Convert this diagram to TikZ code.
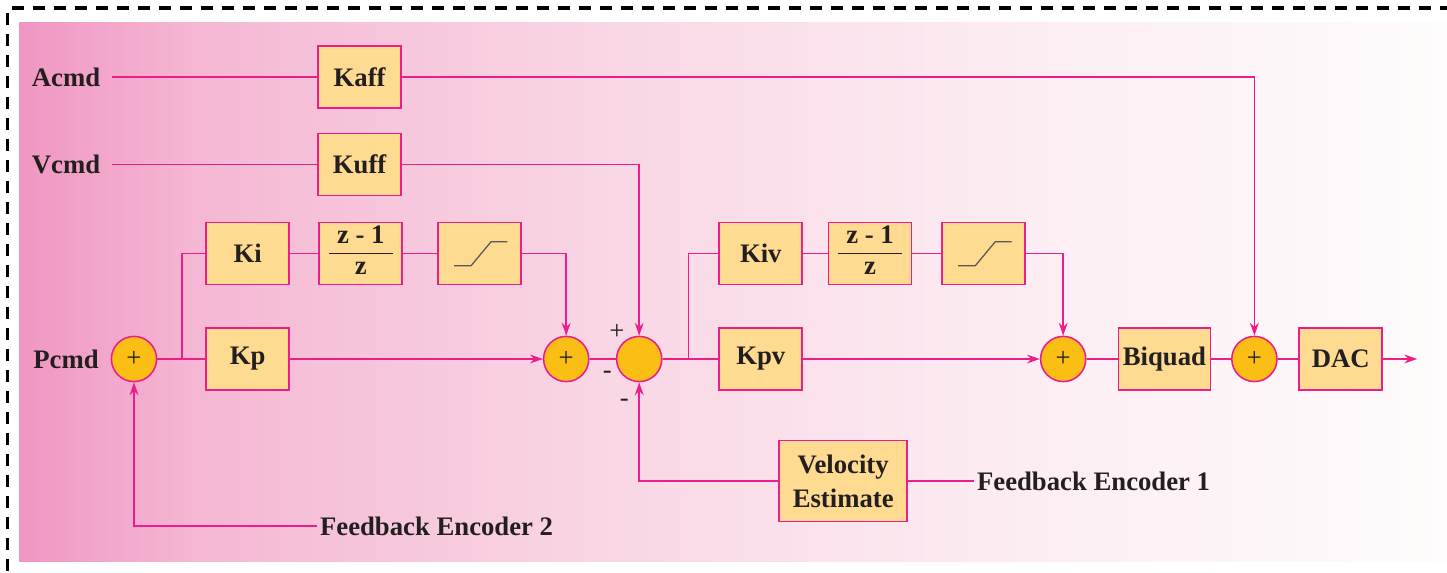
\documentclass[tikz,border=0pt]{standalone}
\usepackage{fontspec}
\setmainfont{Liberation Serif}
\usetikzlibrary{arrows.meta}

\definecolor{wirepink}{RGB}{236,30,140}
\definecolor{blkfill}{RGB}{255,218,145}
\definecolor{sumfill}{RGB}{250,190,20}
\definecolor{inkdark}{RGB}{35,31,32}
\definecolor{bgA}{RGB}{240,150,194}
\definecolor{bgB}{RGB}{245,184,212}
\definecolor{bgC}{RGB}{249,214,229}
\definecolor{bgD}{RGB}{252,236,242}
\definecolor{bgE}{RGB}{254,252,252}
\setlength{\arrayrulewidth}{1pt}

\begin{document}
\begin{tikzpicture}[
    blk/.style={draw=wirepink, fill=blkfill, line width=1.2pt, minimum width=2.075cm, minimum height=1.55cm, inner sep=2pt, font=\bfseries\fontsize{19}{24}\selectfont, text=inkdark},
    sumc/.style={circle, draw=wirepink, fill=sumfill, line width=1.1pt, minimum size=1.13cm, inner sep=0pt, font=\fontsize{19}{20}\selectfont, text=inkdark},
    sig/.style={font=\bfseries\fontsize{19}{24}\selectfont, text=inkdark, inner sep=2pt},
    cmd/.style={sig, inner xsep=0.3cm},
    sgn/.style={font=\fontsize{19}{20}\selectfont, text=inkdark, inner sep=0pt},
    wire/.style={draw=wirepink, line width=1.2pt},
    arw/.style={-{Stealth[length=0.32cm, width=0.22cm]}},
    satline/.style={draw=inkdark!75, line width=0.9pt}
]
    \useasboundingbox (0,0) rectangle (36.175,14.325);

    % Background and frame
    \shade[left color=bgA, right color=bgB] (0.475,0.275) rectangle (5.01,13.76);
    \shade[left color=bgB, right color=bgC] (5,0.275) rectangle (15.01,13.76);
    \shade[left color=bgC, right color=bgD] (15,0.275) rectangle (25.01,13.76);
    \shade[left color=bgD, right color=bgE] (25,0.275) rectangle (36.175,13.76);
    \draw[black, line width=2.2pt, dash pattern=on 0.3cm off 0.225cm] (0.19,-1) rectangle (37.5,14.125);

    % Command inputs
    \node[cmd] (acmd) at (1.65,12.4) {Acmd};
    \node[cmd] (vcmd) at (1.65,10.21) {Vcmd};
    \node[cmd] (pcmd) at (1.65,5.35) {Pcmd};

    % Feedforward gains
    \node[blk] (kaff) at (8.99,12.4) {Kaff};
    \node[blk] (kuff) at (8.99,10.21) {Kuff};

    % Position loop
    \node[sumc] (sumP) at (3.35,5.35) {+};
    \coordinate (brP) at (4.55,5.35);
    \node[blk] (ki) at (6.19,7.99) {Ki};
    \node[blk, inner sep=0pt] (intP) at (9.02,7.99) {\renewcommand{\arraystretch}{0.87}\begin{tabular}{@{\hspace{0.2cm}}c@{\hspace{0.2cm}}}z - 1\\\hline z\end{tabular}};
    \node[blk] (satP) at (11.985,7.99) {};
    \draw[satline] ([xshift=-0.635cm,yshift=-0.31cm]satP.center) -- ++(0.425,0) -- ++(0.5,0.6) -- ++(0.41,0);
    \node[blk] (kp) at (6.19,5.35) {Kp};
    \node[sumc] (sumPI) at (14.155,5.35) {+};

    % Velocity loop
    \node[sumc] (sumV) at (15.98,5.35) {};
    \node[sgn] (plusV) at (15.42,6.03) {+};
    \node[sgn] (minusA) at (15.18,4.95) {-};
    \node[sgn] (minusB) at (15.61,4.26) {-};
    \coordinate (brV) at (17.21,5.35);
    \node[blk] (kiv) at (19.02,7.99) {Kiv};
    \node[blk, inner sep=0pt] (intV) at (21.75,7.99) {\renewcommand{\arraystretch}{0.87}\begin{tabular}{@{\hspace{0.2cm}}c@{\hspace{0.2cm}}}z - 1\\\hline z\end{tabular}};
    \node[blk] (satV) at (24.59,7.99) {};
    \draw[satline] ([xshift=-0.635cm,yshift=-0.31cm]satV.center) -- ++(0.425,0) -- ++(0.5,0.6) -- ++(0.41,0);
    \node[blk] (kpv) at (19.02,5.35) {Kpv};
    \node[sumc] (sumVI) at (26.58,5.35) {+};
    \node[blk, minimum width=3.2cm, minimum height=2.02cm, align=center] (velest) at (21.08,2.3) {Velocity\\Estimate};

    % Output stage
    \node[blk, minimum width=2.3cm] (biquad) at (29.11,5.35) {Biquad};
    \node[sumc] (sumA) at (31.36,5.35) {+};
    \node[blk] (dac) at (33.52,5.35) {DAC};
    \coordinate (out) at (35.43,5.35);

    % Encoder inputs
    \node[sig, anchor=west] (enc2) at (7.925,1.17) {Feedback Encoder 2};
    \node[sig, anchor=west] (enc1) at (24.35,2.3) {Feedback Encoder 1};

    % Feedforward wires
    \draw[wire] (acmd) -- (kaff);
    \draw[wire, arw] (kaff) -| (sumA);
    \draw[wire] (vcmd) -- (kuff);
    \draw[wire, arw] (kuff) -| (sumV);

    % Position loop wires
    \draw[wire] (sumP) -- (kp);
    \draw[wire] (brP) |- (ki);
    \draw[wire] (ki) -- (intP) -- (satP);
    \draw[wire, arw] (satP) -| (sumPI);
    \draw[wire, arw] (kp) -- (sumPI);
    \draw[wire, arw] (enc2) -| (sumP);
    \draw[wire] (sumPI) -- (sumV);

    % Velocity loop wires
    \draw[wire] (sumV) -- (kpv);
    \draw[wire] (brV) |- (kiv);
    \draw[wire] (kiv) -- (intV) -- (satV);
    \draw[wire, arw] (satV) -| (sumVI);
    \draw[wire, arw] (kpv) -- (sumVI);
    \draw[wire, arw] (velest) -| (sumV);
    \draw[wire] (enc1) -- (velest);

    % Output wires
    \draw[wire] (sumVI) -- (biquad) -- (sumA) -- (dac);
    \draw[wire, arw] (dac) -- (out);
\end{tikzpicture}
\end{document}
